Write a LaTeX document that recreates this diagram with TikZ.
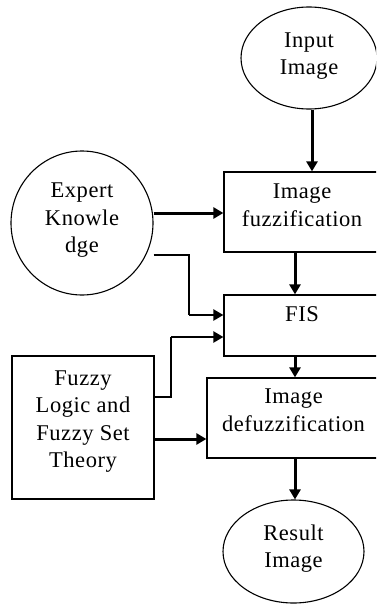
\documentclass[tikz,border=0pt]{standalone}
\usepackage{fontspec}
\setmainfont[LetterSpace=2.5]{Liberation Serif}
\usetikzlibrary{shapes.geometric,arrows.meta}
\newcommand\lines[2]{\begin{tabular}{@{}c@{}}#1\\[#2]\end{tabular}}
\begin{document}
\begin{tikzpicture}[x=1pt,y=-1pt,
  every node/.style={inner sep=0pt,font=\fontsize{22.5}{27.5}\selectfont},
  oval/.style={draw,ellipse,line width=1.1pt},
  box/.style={draw,rectangle,line width=1.2pt},
  arr/.style={line width=3pt,-{Triangle[length=10pt,width=11pt]}},
  marr/.style={line width=2.2pt,-{Triangle[length=10pt,width=11pt]}},
  thinl/.style={line width=1.3pt}]
\useasboundingbox (0,0) rectangle (376,605);
\clip (0,0) rectangle (376,605);
\node[oval,minimum width=136pt,minimum height=102pt] (in) at (309,58) {\lines{Input\\Image}{5.4pt}};
\node[box,minimum width=156pt,minimum height=80pt] (fz) at (302,212) {\lines{Image\\fuzzification}{10.4pt}};
\node[oval,minimum width=142pt,minimum height=144pt] (ek) at (82,223) {\lines{Expert\\Knowle\\dge}{6.4pt}};
\node[box,minimum width=156pt,minimum height=61pt] (fis) at (302,325.5) {\lines{FIS}{19.4pt}};
\node[box,minimum width=142pt,minimum height=143pt] (fu) at (83,427.5) {\lines{Fuzzy\\Logic and\\Fuzzy Set\\Theory}{13.4pt}};
\node[box,minimum width=173pt,minimum height=80pt] (df) at (293.5,418) {\lines{Image\\defuzzification}{12.4pt}};
\node[oval,minimum width=141pt,minimum height=103pt] (res) at (293.5,551.5) {\lines{Result\\Image}{6pt}};
% helper coordinates
\coordinate (inS) at ([xshift=3pt]in.south);
\coordinate (fzS) at ([xshift=-7pt]fz.south);
\coordinate (fisS) at ([xshift=-7pt]fis.south);
\coordinate (dfS) at ([xshift=1.5pt]df.south);
\coordinate (ekA) at ([yshift=10pt]ek.east);
\coordinate (ekB) at ([yshift=-32pt]ek.east);
\coordinate (fisA) at ([yshift=10.5pt]fis.west);
\coordinate (fisB) at ([yshift=-11.5pt]fis.west);
\coordinate (fuA) at ([yshift=30.5pt]fu.east);
\coordinate (fuB) at ([yshift=-11.5pt]fu.east);
\coordinate (c1) at (189,315);
\coordinate (c2) at (171,337);
% connectors
\draw[arr] (inS) -- (inS |- fz.north);
\draw[arr] (ekA) -- (ekA -| fz.west);
\draw[arr] (fzS) -- (fzS |- fis.north);
\draw[arr] (fisS) -- (fisS |- df.north);
\draw[arr] (dfS) -- (dfS |- res.north);
\draw[thinl] (ekB) -| (c1);
\draw[marr] (c1) -- (fisA);
\draw[thinl] (fuA) -| (c2);
\draw[marr] (c2) -- (fisB);
\draw[arr] (fuB) -- (fuB -| df.west);
\end{tikzpicture}
\end{document}
